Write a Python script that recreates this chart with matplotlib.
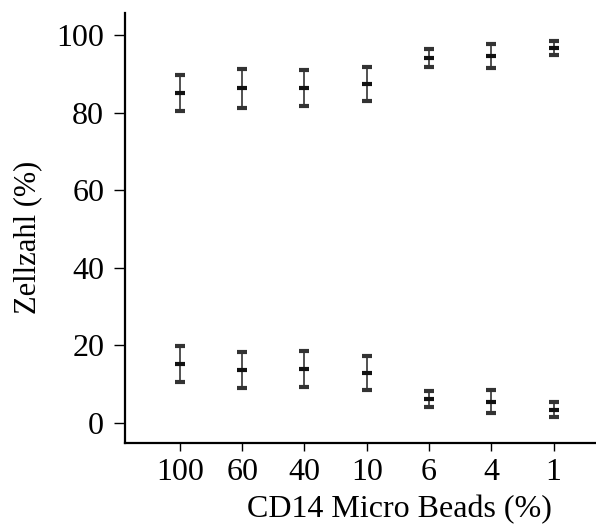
import numpy as np
import matplotlib.pyplot as plt

# CD14 Micro Beads concentration (%) and cell counts (%)
categories = ['100', '60', '40', '10', '6', '4', '1']
upper_mean = [85.1, 86.3, 86.3, 87.4, 94.1, 94.6, 96.7]
upper_err = [4.6, 5.0, 4.7, 4.4, 2.2, 3.1, 1.9]
lower_mean = [15.1, 13.6, 13.9, 12.8, 6.2, 5.5, 3.4]
lower_err = [4.6, 4.7, 4.7, 4.4, 2.1, 3.0, 2.0]

plt.rcParams['font.family'] = ['Liberation Serif', 'DejaVu Serif']

fig = plt.figure(figsize=(5.96, 5.24), dpi=100)
ax = fig.add_axes([125 / 596, 1 - 443 / 524, 471 / 596, (443 - 13) / 524])

x = np.arange(len(categories))
for mean, err in [(upper_mean, upper_err), (lower_mean, lower_err)]:
    ax.errorbar(x, mean, yerr=err, fmt='_', color='#111111', ecolor='#333333',
                markersize=6.5, markeredgewidth=3.0, elinewidth=1.2,
                capsize=3.5, capthick=1.1)

ax.set_xlim(-0.88, 6.68)
ax.set_ylim(-5.2, 105.7)
ax.set_xticks(x)
ax.set_xticklabels(categories)
ax.set_yticks([0, 20, 40, 60, 80, 100])

for side in ['top', 'right']:
    ax.spines[side].set_visible(False)
for side in ['left', 'bottom']:
    ax.spines[side].set_linewidth(1.6)

ax.tick_params(axis='y', length=8, width=1.0, labelsize=23, pad=7)
ax.tick_params(axis='x', length=6, width=1.0, labelsize=23, pad=5)

ax.set_xlabel('CD14 Micro Beads (%)', fontsize=23)
ax.xaxis.set_label_coords((399 - 125) / 471, -(510 - 443) / 430, transform=ax.transAxes)
ax.xaxis.label.set_va('center')
ax.set_ylabel('Zellzahl (%)', fontsize=22)
ax.yaxis.set_label_coords(-(125 - 28) / 471, (443 - 237) / 430, transform=ax.transAxes)
ax.yaxis.label.set_va('center')

fig.savefig('out.png', dpi=100)
